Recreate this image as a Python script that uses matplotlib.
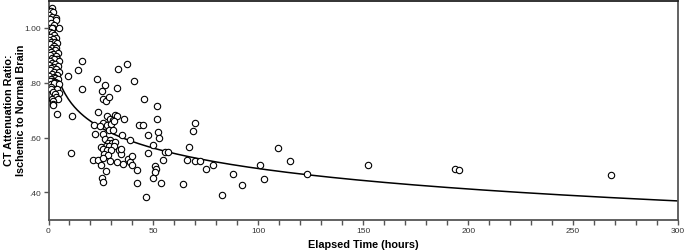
import numpy as np
import matplotlib
matplotlib.use("Agg")
import matplotlib.pyplot as plt
from matplotlib.ticker import MultipleLocator, FixedLocator

plt.rcParams['font.family'] = ['Liberation Sans', 'DejaVu Sans']

# Elapsed time (hours) and CT attenuation ratio
hours = [
    # early cluster (0-6 h)
    1.8, 1.0, 2.3, 0.2, 1.8, 3.7, 0.7, 3.4, 1.0, 2.6, 0.7, 2.3, 1.5, 5.0,
    0.5, 1.6, 2.8, 0.9, 3.6, 2.0, 0.3, 1.2, 3.1, 4.2, 0.8, 2.4, 1.6, 3.8,
    0.4, 2.9, 1.1, 4.6, 2.1, 0.6, 3.4, 1.5, 4.0, 2.6, 0.9, 5.2, 1.9, 3.2,
    0.4, 4.5, 2.3, 1.2, 3.7, 0.7, 2.8, 5.0, 1.7, 4.1, 0.3, 2.4, 3.3, 1.0,
    4.7, 1.9, 0.6, 2.9, 3.9, 1.4, 2.6, 5.0,
    1.0, 3.9, 1.3, 2.3, 5.0, 3.1, 3.4, 1.8, 4.5, 2.3, 2.3, 2.3, 4.0,
    # 6-20 h
    9.3, 13.9, 16.2, 15.8, 11.0, 10.7,
    # 20-48 h
    23.2, 27.0, 25.3, 32.5, 33.2, 37.3, 40.7,
    26.0, 27.2, 28.9, 45.5, 51.5,
    23.8, 28.0, 29.3, 31.7, 30.9, 32.5, 36.2, 25.8, 27.7, 29.6, 31.2,
    21.8, 24.5, 29.0, 30.6, 34.9, 38.7, 42.9, 44.8, 47.5, 22.0, 26.1,
    26.9, 29.3, 28.5, 30.1, 31.7, 27.4, 29.0, 31.2, 24.9, 26.1, 27.7,
    29.6, 33.7, 34.4, 26.4, 28.5, 29.3, 21.0, 23.7, 25.8, 38.0, 38.8,
    32.5, 35.3, 34.4,
    25.0, 27.5, 25.3, 26.0, 39.9, 39.7, 42.0, 42.4, 46.4,
    # 48-60 h
    51.6, 52.0, 52.8, 49.6, 47.5, 55.3, 57.0, 54.7, 50.7, 51.2, 50.7,
    49.9, 53.4,
    # 60-125 h
    64.0, 66.1, 66.9, 69.0, 69.8, 70.0, 72.1, 75.0, 78.2, 82.6, 88.0,
    92.3, 100.9, 102.8, 109.4, 115.0, 123.1,
    # late
    152.3, 193.6, 195.6, 268.0,
]

ratio = [
    1.074, 1.062, 1.058, 1.046, 1.041, 1.035, 1.032, 1.028, 1.017, 1.012, 1.000, 1.000, 1.000, 1.000,
    0.985, 0.980, 0.975, 0.968, 0.965, 0.960, 0.955, 0.950, 0.948, 0.945, 0.940, 0.935, 0.928, 0.925,
    0.920, 0.918, 0.912, 0.910, 0.905, 0.900, 0.898, 0.892, 0.888, 0.885, 0.880, 0.878, 0.873, 0.870,
    0.865, 0.862, 0.858, 0.852, 0.850, 0.845, 0.840, 0.838, 0.833, 0.830, 0.826, 0.822, 0.818, 0.815,
    0.812, 0.808, 0.805, 0.802, 0.800, 0.797, 0.800, 0.796,
    0.784, 0.778, 0.778, 0.766, 0.763, 0.760, 0.748, 0.741, 0.741, 0.733, 0.724, 0.719, 0.686,
    0.823, 0.848, 0.880, 0.778, 0.677, 0.542,
    0.815, 0.793, 0.770, 0.780, 0.851, 0.870, 0.805,
    0.741, 0.735, 0.748, 0.741, 0.714,
    0.693, 0.678, 0.669, 0.681, 0.665, 0.678, 0.666, 0.653, 0.645, 0.651, 0.661,
    0.645, 0.641, 0.626, 0.629, 0.608, 0.592, 0.646, 0.646, 0.611, 0.612, 0.612,
    0.593, 0.590, 0.580, 0.580, 0.583, 0.571, 0.568, 0.571, 0.565, 0.559, 0.553,
    0.555, 0.555, 0.541, 0.541, 0.535, 0.516, 0.519, 0.519, 0.526, 0.522, 0.510,
    0.510, 0.502, 0.560,
    0.499, 0.478, 0.451, 0.439, 0.531, 0.499, 0.481, 0.436, 0.384,
    0.667, 0.619, 0.600, 0.574, 0.543, 0.546, 0.546, 0.518, 0.498, 0.484, 0.473,
    0.454, 0.433,
    0.432, 0.517, 0.566, 0.625, 0.654, 0.515, 0.515, 0.484, 0.499, 0.392, 0.466,
    0.427, 0.499, 0.448, 0.561, 0.516, 0.467,
    0.499, 0.484, 0.481, 0.465,
]

# logarithmic fit: ratio = fit_a - fit_b * ln(hours)
fit_a = 0.982
fit_b = 0.1075
fit_start, fit_end = 5.0, 300.0

x_ticks = [0, 50, 100, 150, 200, 250, 300]
y_ticks = [0.40, 0.60, 0.80, 1.00]
y_tick_labels = ['.40', '.60', '.80', '1.00']
x_label = 'Elapsed Time (hours)'
y_label = 'CT Attenuation Ratio:\nIschemic to Normal Brain'

W, H = 685, 251
fig = plt.figure(figsize=(W / 100, H / 100), dpi=100)
ax = fig.add_axes([48.5 / W, 1 - 220.8 / H, (678 - 48.5) / W, (220.8 - 1.5) / H])

xf = np.linspace(fit_start, fit_end, 400)
ax.plot(xf, fit_a - fit_b * np.log(xf), color='black', lw=1.1, zorder=2)

ax.scatter(hours, ratio, s=21, facecolors='white', edgecolors='black',
           linewidths=0.8, zorder=3)

ax.set_xlim(0, 300)
ax.set_ylim(0.30, 1.10)

ax.xaxis.set_major_locator(FixedLocator(x_ticks))
ax.xaxis.set_minor_locator(MultipleLocator(10))
ax.set_xticklabels([str(t) for t in x_ticks])
ax.yaxis.set_major_locator(FixedLocator(y_ticks))
ax.set_yticklabels(y_tick_labels)

for sp in ax.spines.values():
    sp.set_color('#555555')
    sp.set_linewidth(1.3)
ax.spines['top'].set_color('#222222')

ax.tick_params(axis='both', which='major', direction='out', length=3.5, width=1.0,
               color='#555555', labelsize=6, labelcolor='#333333', pad=2)
ax.tick_params(axis='x', which='minor', direction='out', length=3.5, width=1.0,
               color='#555555')

fig.text(363 / W, 1 - 245 / H, x_label, fontsize=7.8, fontweight='bold',
         ha='center', va='center')
fig.text(15 / W, 1 - 110 / H, y_label, fontsize=7.8, fontweight='bold',
         ha='center', va='center', rotation=90, linespacing=1.25,
         multialignment='center')

fig.savefig('out.png', dpi=100)
